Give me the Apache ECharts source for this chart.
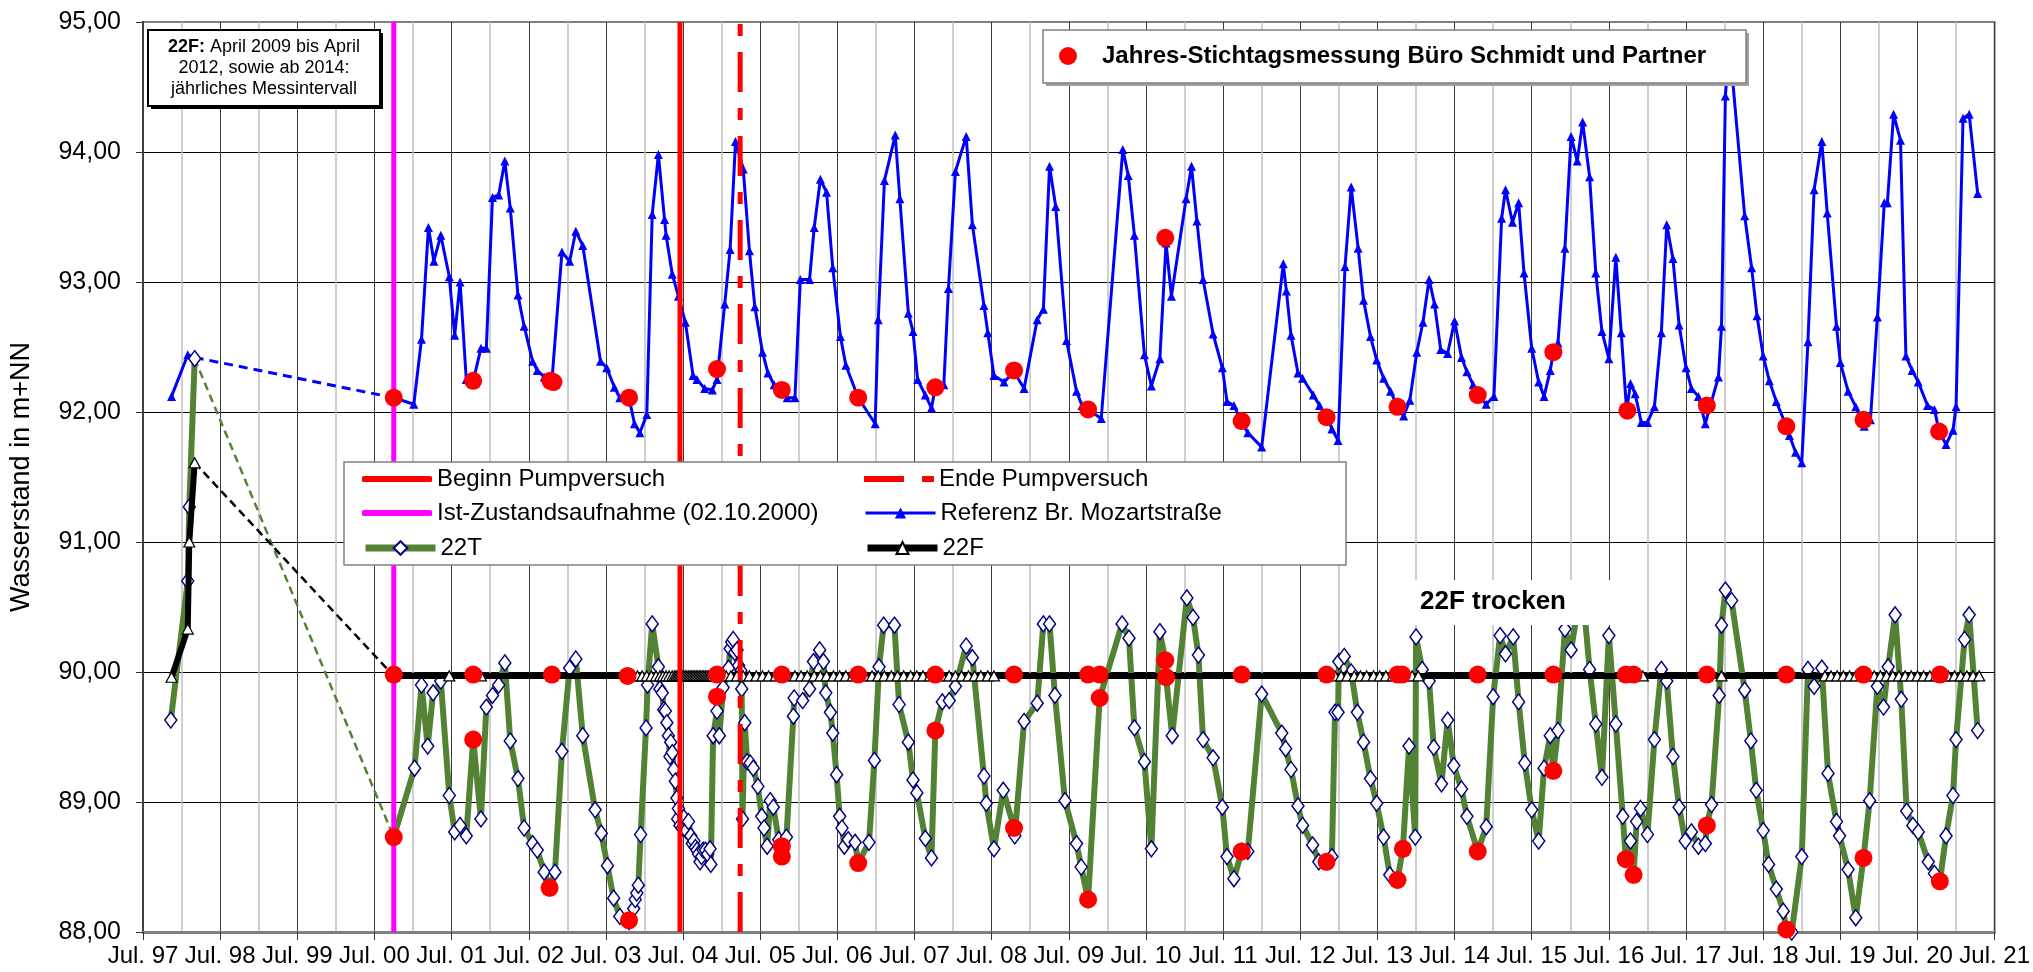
<!DOCTYPE html>
<html><head><meta charset="utf-8">
<script src="https://cdn.jsdelivr.net/npm/echarts@6/dist/echarts.min.js"></script>
<style>html,body{margin:0;padding:0;background:#fff}#c{width:2033px;height:972px}</style>
</head><body><div id="c"></div>
<script>
// ---------- DATA (decimal years, values in m+NN) ----------
const X0 = 1997.5;                 // axis origin = Jul. 97
const xTickLabels = ['Jul. 97','Jul. 98','Jul. 99','Jul. 00','Jul. 01','Jul. 02','Jul. 03','Jul. 04','Jul. 05','Jul. 06','Jul. 07','Jul. 08','Jul. 09','Jul. 10','Jul. 11','Jul. 12','Jul. 13','Jul. 14','Jul. 15','Jul. 16','Jul. 17','Jul. 18','Jul. 19','Jul. 20','Jul. 21'];
const yTickLabels = ['88,00','89,00','90,00','91,00','92,00','93,00','94,00','95,00'];
const Y_MIN = 88, Y_MAX = 95;

const istDate = 2000.75;     // Ist-Zustandsaufnahme 02.10.2000
const pumpBegin = 2004.46;   // Beginn Pumpversuch
const pumpEnd = 2005.24;     // Ende Pumpversuch

const refEarly = [[1997.87,92.12],[1998.08,92.44],[1998.17,92.42]];
const refLink = [[1998.17,92.42],[2000.75,92.11]];
const refData = [
[2000.75,92.11],[2001.01,92.06],[2001.11,92.56],[2001.20,93.42],[2001.27,93.16],[2001.36,93.36],[2001.47,93.04],[2001.54,92.59],[2001.61,93.00],[2001.69,92.25],[2001.78,92.24],[2001.88,92.49],[2001.95,92.49],[2002.03,93.65],[2002.11,93.67],[2002.19,93.93],[2002.26,93.57],[2002.36,92.90],[2002.44,92.66],[2002.55,92.39],[2002.61,92.32],[2002.70,92.27],[2002.80,92.24],[2002.93,93.23],[2003.03,93.16],[2003.11,93.39],[2003.20,93.28],[2003.43,92.39],[2003.51,92.34],[2003.61,92.19],[2003.68,92.11],[2003.80,92.11],[2003.87,91.91],[2003.94,91.84],[2004.03,91.98],[2004.10,93.52],[2004.18,93.98],[2004.26,93.48],[2004.28,93.36],[2004.36,93.06],[2004.44,92.89],[2004.53,92.69],[2004.63,92.28],[2004.68,92.25],[2004.78,92.18],[2004.88,92.17],[2004.94,92.25],[2005.04,92.83],[2005.11,93.25],[2005.18,94.08],[2005.28,93.87],[2005.36,93.24],[2005.43,92.81],[2005.53,92.46],[2005.60,92.30],[2005.68,92.21],[2005.78,92.17],[2005.85,92.11],[2005.95,92.11],[2006.02,93.02],[2006.14,93.02],[2006.20,93.42],[2006.28,93.79],[2006.36,93.69],[2006.44,93.11],[2006.54,92.58],[2006.61,92.36],[2006.77,92.11],[2006.99,91.91],[2007.03,92.71],[2007.11,93.78],[2007.25,94.13],[2007.31,93.64],[2007.42,92.76],[2007.48,92.62],[2007.54,92.25],[2007.64,92.13],[2007.72,92.03],[2007.77,92.19],[2007.88,92.21],[2007.94,92.95],[2008.03,93.85],[2008.17,94.12],[2008.25,93.44],[2008.40,92.82],[2008.45,92.61],[2008.53,92.28],[2008.66,92.23],[2008.79,92.31],[2008.92,92.18],[2009.09,92.71],[2009.17,92.79],[2009.25,93.89],[2009.33,93.58],[2009.47,92.55],[2009.60,92.16],[2009.67,92.05],[2009.75,92.02],[2009.92,91.95],[2010.20,94.02],[2010.27,93.82],[2010.35,93.36],[2010.48,92.44],[2010.57,92.20],[2010.68,92.41],[2010.76,93.30],[2010.83,92.89],[2011.02,93.64],[2011.09,93.89],[2011.16,93.47],[2011.24,93.02],[2011.37,92.60],[2011.49,92.34],[2011.55,92.08],[2011.64,92.05],[2011.73,91.93],[2011.82,91.84],[2012.00,91.73],[2012.28,93.14],[2012.32,92.93],[2012.38,92.59],[2012.47,92.30],[2012.53,92.26],[2012.67,92.13],[2012.75,92.05],[2012.85,91.96],[2012.91,91.87],[2012.99,91.78],[2013.08,93.12],[2013.16,93.73],[2013.25,93.26],[2013.32,92.86],[2013.41,92.58],[2013.49,92.40],[2013.58,92.26],[2013.67,92.16],[2013.76,92.04],[2013.84,91.97],[2013.92,92.09],[2014.01,92.46],[2014.09,92.69],[2014.17,93.02],[2014.24,92.83],[2014.32,92.48],[2014.41,92.45],[2014.50,92.70],[2014.59,92.42],[2014.66,92.31],[2014.74,92.21],[2014.80,92.13],[2014.91,92.06],[2015.01,92.12],[2015.11,93.49],[2015.16,93.71],[2015.25,93.46],[2015.33,93.61],[2015.40,93.07],[2015.50,92.49],[2015.59,92.23],[2015.66,92.12],[2015.74,92.32],[2015.78,92.46],[2015.84,92.53],[2015.93,93.26],[2016.01,94.12],[2016.09,93.93],[2016.16,94.23],[2016.25,93.81],[2016.33,93.07],[2016.41,92.62],[2016.50,92.41],[2016.59,93.19],[2016.66,92.61],[2016.73,92.01],[2016.78,92.22],[2016.84,92.14],[2016.92,91.92],[2017.00,91.92],[2017.09,92.04],[2017.18,92.61],[2017.25,93.44],[2017.33,93.18],[2017.41,92.67],[2017.50,92.34],[2017.57,92.18],[2017.66,92.12],[2017.75,91.91],[2017.92,92.27],[2017.96,92.66],[2018.01,94.43],[2018.06,94.85],[2018.26,93.51],[2018.35,93.11],[2018.42,92.74],[2018.50,92.43],[2018.58,92.24],[2018.67,92.08],[2018.80,91.89],[2018.84,91.82],[2018.92,91.69],[2019.00,91.61],[2019.08,92.54],[2019.16,93.71],[2019.26,94.08],[2019.33,93.53],[2019.45,92.66],[2019.50,92.38],[2019.60,92.16],[2019.70,92.04],[2019.81,91.89],[2019.89,91.94],[2019.98,92.73],[2020.07,93.61],[2020.11,93.61],[2020.19,94.29],[2020.28,94.09],[2020.35,92.43],[2020.43,92.32],[2020.51,92.23],[2020.63,92.05],[2020.72,92.02],[2020.78,91.85],[2020.87,91.75],[2020.96,91.86],[2021.00,92.04],[2021.09,94.26],[2021.17,94.29],[2021.28,93.68]
];

const t22Early = [[1997.86,89.63],[1998.08,90.70],[1998.10,91.27],[1998.17,92.41]];
const t22Link = [[1998.17,92.41],[2000.75,88.73]];
const t22Data = [
[2000.75,88.73],[2001.02,89.26],[2001.11,89.90],[2001.19,89.43],[2001.26,89.84],[2001.36,89.93],[2001.47,89.05],[2001.54,88.77],[2001.61,88.82],[2001.69,88.74],[2001.78,89.48],[2001.88,88.87],[2001.95,89.73],[2002.03,89.82],[2002.11,89.90],[2002.19,90.07],[2002.26,89.47],[2002.36,89.18],[2002.44,88.80],[2002.55,88.68],[2002.61,88.63],[2002.70,88.46],[2002.77,88.34],[2002.84,88.46],[2002.93,89.39],[2003.03,90.03],[2003.11,90.10],[2003.20,89.51],[2003.36,88.94],[2003.44,88.76],[2003.52,88.51],[2003.60,88.26],[2003.68,88.12],[2003.80,88.08],[2003.86,88.18],[2003.88,88.25],[2003.90,88.30],[2003.92,88.36],[2003.95,88.75],[2004.02,89.57],[2004.04,89.90],[2004.10,90.37],[2004.18,90.04],[2004.20,89.87],[2004.23,89.84],[2004.25,89.71],[2004.27,89.70],[2004.29,89.61],[2004.31,89.51],[2004.33,89.35],[2004.34,89.46],[2004.36,89.38],[2004.38,89.25],[2004.40,89.16],[2004.42,89.03],[2004.43,88.87],[2004.44,88.95],[2004.46,88.82],[2004.49,88.80],[2004.51,88.88],[2004.54,88.78],[2004.57,88.85],[2004.60,88.74],[2004.62,88.68],[2004.64,88.70],[2004.66,88.65],[2004.68,88.63],[2004.70,88.60],[2004.72,88.54],[2004.74,88.58],[2004.76,88.63],[2004.79,88.63],[2004.82,88.60],[2004.85,88.64],[2004.86,88.52],[2004.89,89.51],[2004.94,89.70],[2004.97,89.51],[2005.02,89.88],[2005.09,90.03],[2005.11,90.18],[2005.13,90.23],[2005.15,90.25],[2005.17,90.15],[2005.20,90.17],[2005.22,90.05],[2005.25,90.01],[2005.26,89.87],[2005.27,88.87],[2005.30,89.61],[2005.33,89.31],[2005.37,89.30],[2005.41,89.26],[2005.47,89.12],[2005.52,88.89],[2005.55,88.80],[2005.59,88.66],[2005.63,89.01],[2005.67,88.96],[2005.74,88.71],[2005.78,88.62],[2005.84,88.73],[2005.93,89.66],[2005.94,89.80],[2006.05,89.78],[2006.14,89.87],[2006.19,90.08],[2006.27,90.17],[2006.32,90.08],[2006.35,89.84],[2006.41,89.69],[2006.44,89.53],[2006.49,89.21],[2006.53,88.89],[2006.56,88.80],[2006.59,88.66],[2006.64,88.71],[2006.73,88.69],[2006.77,88.53],[2006.91,88.69],[2006.98,89.32],[2007.04,90.04],[2007.10,90.36],[2007.24,90.36],[2007.30,89.75],[2007.42,89.46],[2007.48,89.17],[2007.53,89.07],[2007.64,88.72],[2007.72,88.57],[2007.77,89.55],[2007.86,89.77],[2007.95,89.78],[2008.03,89.89],[2008.17,90.20],[2008.25,90.11],[2008.40,89.20],[2008.43,88.99],[2008.53,88.64],[2008.65,89.09],[2008.79,88.80],[2008.80,88.74],[2008.92,89.62],[2009.09,89.76],[2009.17,90.37],[2009.25,90.37],[2009.32,89.82],[2009.45,89.01],[2009.60,88.68],[2009.66,88.50],[2009.75,88.25],[2009.90,89.80],[2010.19,90.37],[2010.28,90.26],[2010.35,89.57],[2010.48,89.31],[2010.57,88.64],[2010.68,90.31],[2010.75,90.09],[2010.76,89.96],[2010.84,89.51],[2011.03,90.57],[2011.11,90.42],[2011.18,90.13],[2011.24,89.48],[2011.37,89.34],[2011.49,88.96],[2011.55,88.58],[2011.64,88.41],[2011.74,88.62],[2011.82,88.62],[2012.00,89.83],[2012.26,89.53],[2012.31,89.41],[2012.38,89.25],[2012.47,88.97],[2012.53,88.82],[2012.66,88.67],[2012.74,88.54],[2012.84,88.54],[2012.91,88.58],[2012.95,89.69],[2012.99,89.69],[2013.00,90.08],[2013.07,90.12],[2013.16,90.00],[2013.24,89.69],[2013.32,89.46],[2013.41,89.18],[2013.49,88.99],[2013.58,88.73],[2013.66,88.44],[2013.76,88.40],[2013.83,88.64],[2013.91,89.43],[2013.99,88.73],[2014.00,90.27],[2014.08,90.02],[2014.17,89.93],[2014.23,89.42],[2014.33,89.14],[2014.41,89.63],[2014.49,89.28],[2014.59,89.10],[2014.66,88.89],[2014.80,88.62],[2014.91,88.81],[2015.00,89.81],[2015.09,90.28],[2015.16,90.14],[2015.26,90.27],[2015.33,89.77],[2015.41,89.30],[2015.50,88.94],[2015.59,88.70],[2015.66,89.26],[2015.74,89.51],[2015.78,89.24],[2015.84,89.55],[2015.93,90.33],[2016.01,90.17],[2016.10,90.50],[2016.17,90.55],[2016.25,90.02],[2016.33,89.60],[2016.41,89.19],[2016.50,90.28],[2016.59,89.60],[2016.68,88.89],[2016.72,88.56],[2016.78,88.70],[2016.82,88.44],[2016.86,88.85],[2016.91,88.95],[2017.00,88.75],[2017.09,89.48],[2017.18,90.02],[2017.25,89.93],[2017.33,89.35],[2017.41,88.96],[2017.49,88.70],[2017.57,88.77],[2017.66,88.66],[2017.75,88.68],[2017.77,88.82],[2017.83,88.98],[2017.93,89.82],[2017.96,90.36],[2018.01,90.63],[2018.09,90.55],[2018.26,89.86],[2018.34,89.47],[2018.41,89.09],[2018.50,88.78],[2018.57,88.52],[2018.67,88.33],[2018.76,88.16],[2018.80,88.02],[2018.87,88.00],[2019.00,88.58],[2019.08,90.02],[2019.16,89.89],[2019.26,90.03],[2019.34,89.22],[2019.45,88.85],[2019.49,88.74],[2019.60,88.48],[2019.70,88.11],[2019.80,88.57],[2019.88,89.01],[2019.98,89.89],[2020.06,89.73],[2020.12,90.04],[2020.21,90.44],[2020.29,89.79],[2020.36,88.93],[2020.44,88.82],[2020.51,88.77],[2020.64,88.54],[2020.72,88.45],[2020.79,88.39],[2020.87,88.74],[2020.96,89.05],[2021.00,89.48],[2021.11,90.25],[2021.17,90.44],[2021.28,89.55]
];

const f22Early = [[1997.87,89.96],[1998.08,90.33],[1998.10,91.00],[1998.17,91.61]];
const f22Link = [[1998.17,91.61],[2000.75,89.97]];
const f22Data = [
[2000.75,89.97],[2001.47,89.97],[2001.88,89.97],[2002.80,89.97],[2003.78,89.97],[2003.85,89.97],[2003.91,89.97],[2003.97,89.97],[2004.03,89.97],[2004.09,89.97],[2004.15,89.97],[2004.20,89.97],[2004.24,89.97],[2004.28,89.97],[2004.32,89.97],[2004.36,89.97],[2004.39,89.97],[2004.41,89.97],[2004.43,89.97],[2004.45,89.97],[2004.47,89.97],[2004.49,89.97],[2004.51,89.97],[2004.53,89.97],[2004.55,89.97],[2004.57,89.97],[2004.59,89.97],[2004.61,89.97],[2004.63,89.97],[2004.65,89.97],[2004.67,89.97],[2004.69,89.97],[2004.71,89.97],[2004.73,89.97],[2004.75,89.97],[2004.77,89.97],[2004.79,89.97],[2004.81,89.97],[2004.83,89.97],[2004.85,89.97],[2004.87,89.97],[2004.89,89.97],[2004.92,89.97],[2004.96,89.97],[2005.01,89.97],[2005.06,89.97],[2005.12,89.97],[2005.20,89.97],[2005.28,89.97],[2005.36,89.97],[2005.45,89.97],[2005.53,89.97],[2005.61,89.97],[2005.70,89.97],[2005.78,89.97],[2005.86,89.97],[2005.95,89.97],[2006.03,89.97],[2006.11,89.97],[2006.20,89.97],[2006.28,89.97],[2006.36,89.97],[2006.45,89.97],[2006.53,89.97],[2006.61,89.97],[2006.70,89.97],[2006.78,89.97],[2006.86,89.97],[2006.95,89.97],[2007.03,89.97],[2007.11,89.97],[2007.20,89.97],[2007.28,89.97],[2007.36,89.97],[2007.45,89.97],[2007.53,89.97],[2007.61,89.97],[2007.70,89.97],[2007.78,89.97],[2007.86,89.97],[2007.95,89.97],[2008.03,89.97],[2008.11,89.97],[2008.20,89.97],[2008.28,89.97],[2008.36,89.97],[2008.45,89.97],[2008.53,89.97],[2009.75,89.97],[2009.90,89.97],[2010.75,89.97],[2011.74,89.97],[2012.84,89.97],[2012.95,89.97],[2013.03,89.97],[2013.11,89.97],[2013.20,89.97],[2013.28,89.97],[2013.36,89.97],[2013.45,89.97],[2013.53,89.97],[2013.61,89.97],[2013.70,89.97],[2013.78,89.97],[2013.86,89.97],[2013.95,89.97],[2014.03,89.97],[2014.80,89.97],[2015.78,89.97],[2016.72,89.97],[2016.82,89.97],[2016.94,89.97],[2017.77,89.97],[2017.96,89.97],[2018.80,89.97],[2019.30,89.97],[2019.38,89.97],[2019.46,89.97],[2019.54,89.97],[2019.62,89.97],[2019.70,89.97],[2019.78,89.97],[2019.86,89.97],[2019.94,89.97],[2020.02,89.97],[2020.10,89.97],[2020.18,89.97],[2020.26,89.97],[2020.34,89.97],[2020.42,89.97],[2020.50,89.97],[2020.58,89.97],[2020.66,89.97],[2020.74,89.97],[2020.82,89.97],[2020.90,89.97],[2020.98,89.97],[2021.06,89.97],[2021.14,89.97],[2021.22,89.97],[2021.30,89.97]
];

const stichData = [
[2000.75,92.11],[2000.75,89.98],[2000.75,88.73],
[2001.78,92.24],[2001.78,89.98],[2001.78,89.48],
[2002.78,92.24],[2002.82,92.23],[2002.80,89.98],[2002.77,88.34],
[2003.80,92.11],[2003.78,89.97],[2003.80,88.09],
[2004.94,92.33],[2004.94,89.98],[2004.94,89.81],
[2005.78,92.17],[2005.78,89.98],[2005.78,88.66],[2005.78,88.58],
[2006.77,92.11],[2006.77,89.98],[2006.77,88.53],
[2007.77,92.19],[2007.77,89.98],[2007.77,89.55],
[2008.79,92.32],[2008.79,89.98],[2008.79,88.80],
[2009.75,92.02],[2009.75,89.98],[2009.90,89.98],[2009.75,88.25],[2009.90,89.80],
[2010.75,93.34],[2010.75,90.09],[2010.76,89.96],
[2011.74,91.93],[2011.74,89.98],[2011.74,88.62],
[2012.84,91.96],[2012.84,89.98],[2012.84,88.54],
[2013.76,92.04],[2013.76,89.98],[2013.82,89.98],[2013.76,88.40],[2013.83,88.64],
[2014.80,92.13],[2014.80,89.98],[2014.80,88.62],
[2015.78,92.46],[2015.78,89.98],[2015.78,89.24],
[2016.74,92.01],[2016.72,89.98],[2016.82,89.98],[2016.72,88.56],[2016.82,88.44],
[2017.77,92.05],[2017.77,89.98],[2017.77,88.82],
[2018.80,91.89],[2018.80,89.98],[2018.80,88.02],
[2019.80,91.94],[2019.80,89.98],[2019.80,88.57],
[2020.78,91.85],[2020.79,89.98],[2020.79,88.39]
];

// ---------- CHART ----------
const FONT = '"Liberation Sans", Arial, Helvetica, sans-serif';
const xy = a => a.map(p => [p[0] - X0, p[1]]);
const vline = d => [[d - X0, Y_MIN], [d - X0, Y_MAX]];
const BLUE = '#0000FF', GREEN = '#548235', RED = '#FF0000', MAG = '#FF00FF';

const chart = echarts.init(document.getElementById('c'), null, {renderer: 'canvas'});

const legTxt = {fontFamily: FONT, fontSize: 24, color: '#000', lineHeight: 28};
function leg(name, left, cy, extra) {
  return Object.assign({
    data: [name], left: left, top: cy - 14, orient: 'horizontal', padding: 0,
    itemWidth: 70, itemHeight: 14, selectedMode: false, z: 10, textStyle: legTxt
  }, extra || {});
}

const option = {
  animation: false,
  backgroundColor: '#fff',
  grid: {left: 140, right: 35, top: 22, bottom: 40, show: true, borderColor: '#808080', borderWidth: 2, backgroundColor: '#fff'},
  xAxis: {
    type: 'value', min: 0, max: 24, interval: 1,
    axisLine: {show: true, onZero: false, lineStyle: {color: '#808080', width: 3}},
    axisTick: {show: true, length: 8, lineStyle: {color: '#333', width: 1}},
    axisLabel: {fontFamily: FONT, fontSize: 24, color: '#000', margin: 12,
      formatter: v => xTickLabels[Math.round(v)] || ''},
    splitLine: {show: true, lineStyle: {color: '#3a3a3a', width: 1}},
    minorTick: {show: false, splitNumber: 2},
    minorSplitLine: {show: true, lineStyle: {color: '#c0c0c0', width: 1.5}}
  },
  yAxis: {
    type: 'value', min: Y_MIN, max: Y_MAX, interval: 1,
    name: 'Wasserstand in m+NN', nameLocation: 'middle', nameGap: 108, nameRotate: 90,
    nameTextStyle: {fontFamily: FONT, fontSize: 27, color: '#000'},
    axisLine: {show: true, lineStyle: {color: '#404040', width: 2}},
    axisTick: {show: true, length: 7, lineStyle: {color: '#333'}},
    axisLabel: {fontFamily: FONT, fontSize: 25, color: '#000', margin: 22,
      formatter: v => yTickLabels[Math.round(v - Y_MIN)] || ''},
    splitLine: {show: true, showMaxLine: false, lineStyle: {color: '#000', width: 1}}
  },
  legend: [
    leg({name: 'Beginn Pumpversuch', icon: 'roundRect'}, 362, 479, {itemHeight: 6}),
    leg({name: 'Ist-Zustandsaufnahme (02.10.2000)', icon: 'roundRect'}, 362, 513, {itemHeight: 6}),
    leg('22T', 362, 548, {itemHeight: 17, lineStyle: {width: 7, color: GREEN}}),
    leg({name: 'Ende Pumpversuch', icon: 'path://M0,0H40V6H0Z M58,0H70V6H58Z'}, 864, 479, {itemHeight: 6}),
    leg('Referenz Br. Mozartstraße', 864, 513, {itemHeight: 14, lineStyle: {width: 3, color: BLUE}}),
    leg('22F', 864, 548, {itemHeight: 15, lineStyle: {width: 7, color: '#000'}}),
    leg({name: 'Jahres-Stichtagsmessung Büro Schmidt und Partner', icon: 'circle'}, 1059, 56,
        {itemWidth: 58, itemHeight: 18, textStyle: Object.assign({}, legTxt, {fontWeight: 'bold'})})
  ],
  graphic: [
    {type: 'rect', z: 7, shape: {x: 344, y: 462, width: 1002, height: 103}, style: {fill: '#fff', stroke: '#808080', lineWidth: 1.5}},
    {type: 'rect', z: 7, shape: {x: 151, y: 33, width: 232, height: 76}, style: {fill: '#000'}},
    {type: 'rect', z: 7, shape: {x: 148, y: 30, width: 232, height: 76}, style: {fill: '#fff', stroke: '#000', lineWidth: 2}},
    {type: 'text', z: 8, x: 264, y: 68, style: {
      text: '{b|22F:} April 2009 bis April\n2012, sowie ab 2014:\njährliches Messintervall',
      fontFamily: FONT, fontSize: 18, lineHeight: 21, fill: '#000', align: 'center', verticalAlign: 'middle',
      rich: {b: {fontFamily: FONT, fontSize: 18, fontWeight: 'bold', lineHeight: 21, fill: '#000'}}}},
    {type: 'rect', z: 7, shape: {x: 1046, y: 33, width: 703, height: 53}, style: {fill: '#a0a0a0'}},
    {type: 'rect', z: 7, shape: {x: 1043, y: 30, width: 703, height: 53}, style: {fill: '#fff', stroke: '#808080', lineWidth: 1.5}},
    {type: 'rect', z: 7, shape: {x: 1384, y: 580, width: 227, height: 45}, style: {fill: '#fff'}},
    {type: 'text', z: 8, x: 1493, y: 602, style: {text: '22F trocken', fontFamily: FONT, fontSize: 26, fontWeight: 'bold', fill: '#000', align: 'center', verticalAlign: 'middle'}}
  ],
  series: [
    {name: 'Referenz Br. Mozartstraße', type: 'line', z: 2, data: xy(refData), symbol: 'triangle', symbolSize: 9,
      lineStyle: {color: BLUE, width: 3}, itemStyle: {color: BLUE}, silent: true},
    {name: 'ref_early', type: 'line', z: 2, data: xy(refEarly), symbol: 'triangle', symbolSize: 9,
      lineStyle: {color: BLUE, width: 3}, itemStyle: {color: BLUE}, silent: true},
    {name: 'ref_link', type: 'line', z: 2, data: xy(refLink), symbol: 'none',
      lineStyle: {color: BLUE, width: 3, type: [9, 6]}, silent: true},

    {name: '22T', type: 'line', z: 3, data: xy(t22Data), symbol: 'diamond', symbolSize: [12, 16],
      lineStyle: {color: GREEN, width: 6}, itemStyle: {color: '#fff', borderColor: '#000080', borderWidth: 1.5}, silent: true},
    {name: 't22_early', type: 'line', z: 3, data: xy(t22Early), symbol: 'diamond', symbolSize: [12, 16],
      lineStyle: {color: GREEN, width: 6}, itemStyle: {color: '#fff', borderColor: '#000080', borderWidth: 1.5}, silent: true},
    {name: 't22_link', type: 'line', z: 3, data: xy(t22Link), symbol: 'none',
      lineStyle: {color: GREEN, width: 2.5, type: [8, 5]}, silent: true},

    {name: '22F', type: 'line', z: 4, data: xy(f22Data), symbol: 'triangle', symbolSize: [11, 10],
      lineStyle: {color: '#000', width: 6}, itemStyle: {color: '#fff', borderColor: '#000', borderWidth: 1.2}, silent: true},
    {name: 'f22_early', type: 'line', z: 4, data: xy(f22Early), symbol: 'triangle', symbolSize: [11, 10],
      lineStyle: {color: '#000', width: 6}, itemStyle: {color: '#fff', borderColor: '#000', borderWidth: 1.2}, silent: true},
    {name: 'f22_link', type: 'line', z: 4, data: xy(f22Link), symbol: 'none',
      lineStyle: {color: '#000', width: 2.5, type: [8, 5]}, silent: true},

    {name: 'Ist-Zustandsaufnahme (02.10.2000)', type: 'line', z: 5, data: vline(istDate), symbol: 'none',
      lineStyle: {color: MAG, width: 5}, itemStyle: {color: MAG}, silent: true},
    {name: 'Beginn Pumpversuch', type: 'line', z: 5, data: vline(pumpBegin), symbol: 'none',
      lineStyle: {color: RED, width: 5}, itemStyle: {color: RED}, silent: true},
    {name: 'Ende Pumpversuch', type: 'line', z: 5, data: vline(pumpEnd), symbol: 'none',
      lineStyle: {color: RED, width: 5, type: [40, 16, 12, 16]}, itemStyle: {color: RED}, silent: true},

    {name: 'Jahres-Stichtagsmessung Büro Schmidt und Partner', type: 'scatter', z: 6, data: xy(stichData),
      symbol: 'circle', symbolSize: 18, itemStyle: {color: RED, opacity: 1}, silent: true}
  ]
};
chart.setOption(option);
</script>
</body></html>
